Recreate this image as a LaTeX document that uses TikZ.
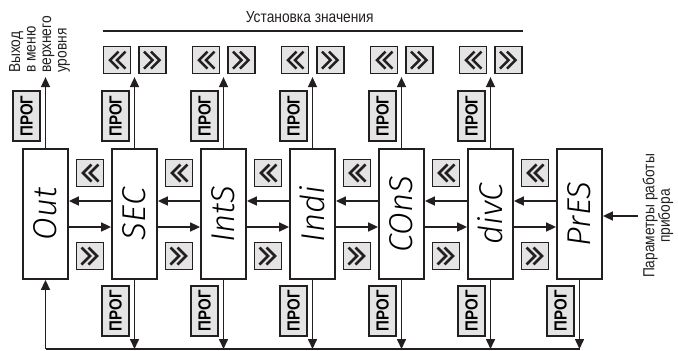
\documentclass[tikz,border=0pt]{standalone}
\usepackage{graphicx}
\usepackage{fontspec}
\setmainfont{Liberation Sans}
\newfontfamily\narrowfont[FakeStretch=0.86]{Liberation Sans}
\newfontfamily\blkfont[ItalicFont={Fira Sans Light Italic}]{Fira Sans Light}
\usetikzlibrary{arrows.meta,calc,positioning}
\definecolor{ink}{HTML}{231F20}
\definecolor{keyfill}{HTML}{E4E4E4}
\newcommand{\vtext}[1]{\rotatebox{90}{#1}}
\tikzset{
  blk/.style={draw=ink, line width=1.8pt, minimum width=45pt, minimum height=130pt, inner sep=0pt,
    font=\blkfont\fontsize{33}{33}\selectfont\itshape},
  progbox/.style={draw=ink, line width=1.6pt, fill=keyfill, minimum width=27pt, minimum height=50pt,
    inner sep=0pt, font=\narrowfont\bfseries\fontsize{17.5}{17.5}\selectfont},
  keybox/.style={draw=ink, line width=1.6pt, fill=keyfill, minimum size=27pt, inner sep=0pt},
  keyleft/.style={keybox, path picture={\draw[ink, line width=2.6pt, shift={(path picture bounding box.center)}]
    (1.5,-8.5) -- (-7,0) -- (1.5,8.5) (8.5,-8.5) -- (0,0) -- (8.5,8.5);}},
  keyright/.style={keybox, path picture={\draw[ink, line width=2.6pt, shift={(path picture bounding box.center)}]
    (-1.5,-8.5) -- (7,0) -- (-1.5,8.5) (-8.5,-8.5) -- (0,0) -- (-8.5,8.5);}},
  link/.style={draw=ink, line width=1.6pt, -{Triangle[length=10pt,width=9pt]}},
  note/.style={font=\narrowfont\fontsize{16}{15.5}\selectfont, inner sep=0pt, text=ink},
}
\begin{document}
\begin{tikzpicture}[x=1pt,y=-1pt]
\useasboundingbox (0,0) rectangle (678,351);
% menu blocks
\foreach \name/\txt [count=\i from 0] in {out/Out,sec/SEC,ints/IntS,indi/Indi,cons/COnS,divc/divC,pres/PrES}
  {\node[blk] (\name) at (45.5+89*\i,214) {\vtext{\txt}};}
\coordinate (base) at (0,349);
% steps between blocks
\foreach \a/\b in {out/sec,sec/ints,ints/indi,indi/cons,cons/divc,divc/pres}{
  \draw[link] ([yshift=13pt]\b.west) -- ([yshift=13pt]\a.east);
  \draw[link] ([yshift=-13pt]\a.east) -- ([yshift=-13pt]\b.west);
  \node[keyleft] (kl\a) at ($(\a.east)!0.5!(\b.west)+(0,-41)$) {};
  \node[keyright] (kr\a) at ($(\a.east)!0.5!(\b.west)+(0,42)$) {};
}
% upwards: value setting
\foreach \name in {out,sec,ints,indi,cons,divc}
  {\node[progbox] (pt\name) at ($(\name.north)+(-19,-32)$) {\vtext{ПРОГ}};}
\foreach \name in {sec,ints,indi,cons,divc}{
  \node[keyleft] (ul\name) at ($(\name.north)+(-17.5,-88)$) {};
  \node[keyright] (ur\name) at ($(\name.north)+(18,-88)$) {};
  \coordinate (up\name) at ($(\name.north)+(0,-71)$);
  \draw[link] (\name.north) -- (up\name);
}
\coordinate (exit) at ($(out.north)+(0,-71)$);
\draw[link] (out.north) -- (exit);
\node[note, rotate=90, align=left, anchor=north west] (exitnote) at (9,73) {Выход\\в меню\\верхнего\\уровня};
\draw[ink, line width=1.5pt] ($(ulsec.north west)+(0,-15)$) coordinate (tl) -- ($(urdivc.north east)+(0,-15)$) coordinate (tr);
\node[note] (title) at ($(tl)!0.5!(tr)+(-3,-14)$) {Установка значения};
% downwards: back to the first block
\foreach \name in {sec,ints,indi,cons,divc,pres}{
  \node[progbox] (pb\name) at ($(\name.south)+(-19,31)$) {\vtext{ПРОГ}};
  \draw[link] (\name.south) -- (\name.south |- base);
}
\draw[ink, line width=2pt] (out.south |- base) -- (pres.south |- base);
\draw[link] (out.south |- base) -- (out.south);
% device parameters
\coordinate (inp) at (638,216);
\draw[link] (inp) -- (pres.east |- inp);
\node[note, rotate=90, align=center] (parnote) at (658,216) {Параметры работы\\прибора};
\end{tikzpicture}
\end{document}
